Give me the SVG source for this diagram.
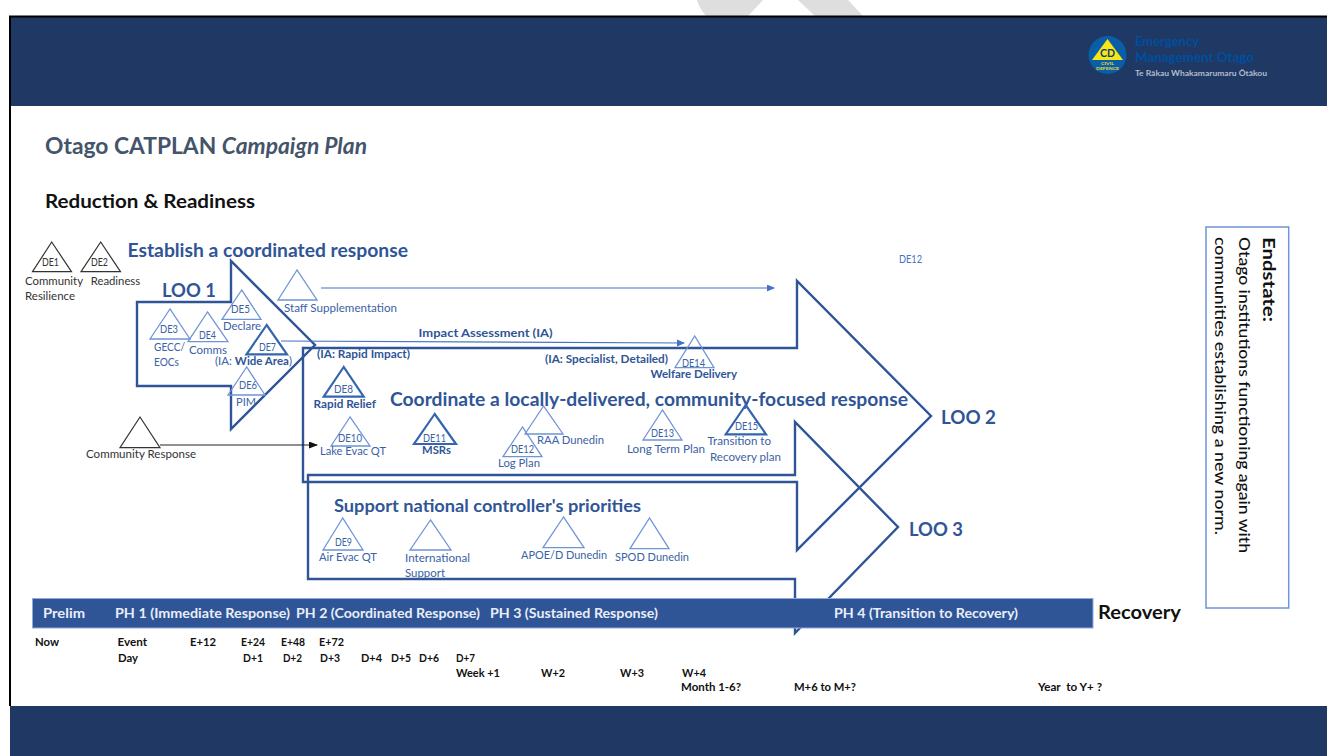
<svg xmlns="http://www.w3.org/2000/svg" width="1327" height="756" viewBox="0 0 1327 756">
<style>
text{font-family:"Lato","Liberation Sans",sans-serif;font-size:10.5px;fill:#3a62a5}
.k{fill:#333}
.t{font-size:10.5px;fill:#111;font-weight:700}
.b{font-weight:700;fill:#2f5597}
.h{font-size:18px;font-weight:700;fill:#2f5597}
.loo{font-size:19px;font-weight:700;fill:#2f5597}
.ph{font-size:13px;font-weight:700;fill:#e8eef8}
.tri{fill:none;stroke:#6f94d8;stroke-width:1.3}
.tb{fill:none;stroke:#3565ad;stroke-width:2.2}
.tk{fill:none;stroke:#333;stroke-width:1.2}
.arr{fill:none;stroke:#2f5597;stroke-width:2.4}
.band{fill:#1f3864}
</style>
<defs>
<marker id="mb" markerWidth="8" markerHeight="8" refX="7" refY="3.5" orient="auto" markerUnits="userSpaceOnUse"><path d="M0 0L8 3.5L0 7z" fill="#4472c4"/></marker>
<marker id="mk" markerWidth="9" markerHeight="8" refX="8" refY="3.5" orient="auto" markerUnits="userSpaceOnUse"><path d="M0 0L9 3.5L0 7z" fill="#111"/></marker>
</defs>
<rect width="1327" height="756" fill="#fff"/>
<g id="watermark" fill="#dedede">
<path d="M697 0H763L748 16H706Q699 8 697 0z"/>
<path d="M798 0H848L863 16H815z"/>
</g>
<g id="frame">
<rect class="band" x="10" y="17" width="1317" height="89"/>
<rect class="band" x="10" y="706" width="1317" height="50"/>
<path d="M10 706V16.500H1327" fill="none" stroke="#000" stroke-width="2"/>
</g>
<g id="logo">
<circle cx="1107.500" cy="55" r="19" fill="#0a5ea8"/>
<path d="M1107.500 39L1092 60H1123z" fill="#f7e814"/>
<text x="1100" y="57" textLength="15" lengthAdjust="spacingAndGlyphs" style="font-size:12px;fill:#12387a;font-weight:700">CD</text>
<text x="1101" y="65" textLength="13" lengthAdjust="spacingAndGlyphs" style="font-size:4.500px;fill:#e4dc30;font-weight:700">CIVIL</text>
<text x="1096" y="70" textLength="23" lengthAdjust="spacingAndGlyphs" style="font-size:4.500px;fill:#e4dc30;font-weight:700">DEFENCE</text>
<text x="1135" y="46" textLength="64" lengthAdjust="spacingAndGlyphs" style="font-size:13px;fill:#004f9f;font-weight:700">Emergency</text>
<text x="1135" y="62" textLength="119" lengthAdjust="spacingAndGlyphs" style="font-size:13px;fill:#004f9f;font-weight:700">Management Otago</text>
<text x="1135" y="76" textLength="132" lengthAdjust="spacingAndGlyphs" style="font-size:8px;fill:#b4bccb;font-weight:700">Te Rākau Whakamarumaru Ōtākou</text>
</g>
<g id="titles">
<text x="45" y="154" style="font-size:22.800px;font-weight:700;fill:#44546a">Otago CATPLAN <tspan font-style="italic">Campaign Plan</tspan></text>
<text x="45" y="208" textLength="210" lengthAdjust="spacingAndGlyphs" style="font-size:18px;font-weight:700;fill:#111">Reduction &amp; Readiness</text>
</g>
<g id="loo-arrows">
<g id="loo1"><path class="arr" d="M137 302H231V261L315 345L231 429V386H137z"/><text class="loo" x="162" y="297" textLength="54" lengthAdjust="spacingAndGlyphs">LOO 1</text><text class="h" x="127.500" y="257" textLength="280.500" lengthAdjust="spacingAndGlyphs">Establish a coordinated response</text></g>
<g id="loo2"><path class="arr" d="M303 348H797V281L931 416L797 550V482H303z"/><text class="loo" x="941" y="424" textLength="55" lengthAdjust="spacingAndGlyphs">LOO 2</text><text class="h" x="390" y="406" textLength="518" lengthAdjust="spacingAndGlyphs">Coordinate a locally-delivered, community-focused response</text></g>
<g id="loo3"><path class="arr" d="M308 475H795V422L898 527L795 633V579H308z"/><text class="loo" x="909" y="536" textLength="54" lengthAdjust="spacingAndGlyphs">LOO 3</text><text class="h" x="334" y="512" textLength="307" lengthAdjust="spacingAndGlyphs" style="font-size:16.500px">Support national controller's priorities</text></g>
</g>
<g id="connectors">
<path d="M321 288H774" fill="none" stroke="#4472c4" stroke-width="1.200" marker-end="url(#mb)"/>
<path d="M281 341L684 343" fill="none" stroke="#4472c4" stroke-width="1.200" marker-end="url(#mb)"/>
<path d="M160 445H317" fill="none" stroke="#222" stroke-width="1.200" marker-end="url(#mk)"/>
</g>
<g id="node-de1"><path class="tk" d="M51.700 242L32.500 271.700H71.500z"/><text class="k" x="42" y="266" textLength="17" lengthAdjust="spacingAndGlyphs">DE1</text><text class="k" x="25" y="285" textLength="58" lengthAdjust="spacingAndGlyphs">Community</text><text class="k" x="25" y="300" textLength="50" lengthAdjust="spacingAndGlyphs">Resilience</text></g>
<g id="node-de2"><path class="tk" d="M100.700 242L81 271.700H120.500z"/><text class="k" x="91" y="266" textLength="17" lengthAdjust="spacingAndGlyphs">DE2</text><text class="k" x="90.700" y="285" textLength="49.500" lengthAdjust="spacingAndGlyphs">Readiness</text></g>
<g id="node-de3"><path class="tri" d="M170 309L150 339H190z"/><text x="160" y="333" textLength="18" lengthAdjust="spacingAndGlyphs">DE3</text><text x="154" y="351" textLength="31" lengthAdjust="spacingAndGlyphs">GECC/</text><text x="154" y="366" textLength="25" lengthAdjust="spacingAndGlyphs">EOCs</text></g>
<g id="node-de4"><path class="tri" d="M207.500 312L188 341.700H228z"/><text x="199" y="339" textLength="17" lengthAdjust="spacingAndGlyphs">DE4</text><text x="189" y="354" textLength="38" lengthAdjust="spacingAndGlyphs">Comms</text></g>
<g id="node-de5"><path class="tri" d="M241.700 290L222 319.300H261z"/><text x="231" y="313" textLength="19" lengthAdjust="spacingAndGlyphs">DE5</text><text x="223" y="330" textLength="38" lengthAdjust="spacingAndGlyphs">Declare</text></g>
<g id="node-de6"><path class="tri" d="M246.700 367L228 395H265z"/><text x="239" y="389" textLength="18" lengthAdjust="spacingAndGlyphs">DE6</text><text x="236" y="406" textLength="20" lengthAdjust="spacingAndGlyphs">PIM</text></g>
<g id="node-de7"><path class="tb" d="M266.700 325L246.500 354.300H287z"/><text x="259" y="351" textLength="17" lengthAdjust="spacingAndGlyphs">DE7</text><text x="215" y="365" textLength="77" lengthAdjust="spacingAndGlyphs">(IA: <tspan class="b">Wide Area</tspan>)</text></g>
<g id="node-staff"><path class="tri" d="M297 270L278 300H317z"/><text x="284" y="312" textLength="113" lengthAdjust="spacingAndGlyphs">Staff Supplementation</text></g>
<g id="node-community-response"><path class="tk" d="M140 417L120 447.700H160z"/><text class="k" x="86" y="458" textLength="110" lengthAdjust="spacingAndGlyphs">Community Response</text></g>
<g id="ia-labels">
<text class="b" x="418.600" y="336.700" textLength="134" lengthAdjust="spacingAndGlyphs">Impact Assessment (IA)</text>
<text class="b" x="317" y="358" textLength="93" lengthAdjust="spacingAndGlyphs">(IA: Rapid Impact)</text>
<text class="b" x="545" y="362.700" textLength="123" lengthAdjust="spacingAndGlyphs">(IA: Specialist, Detailed)</text>
<text x="899" y="262.700" textLength="23" lengthAdjust="spacingAndGlyphs" style="fill:#4472c4">DE12</text>
</g>
<g id="node-de8"><path class="tb" d="M343.700 367L323.700 396.700H363.700z"/><text x="334" y="393" textLength="19" lengthAdjust="spacingAndGlyphs">DE8</text><text class="b" x="313.500" y="408" textLength="62.500" lengthAdjust="spacingAndGlyphs">Rapid Relief</text></g>
<g id="node-de10"><path class="tri" d="M350 417L331 446H370z"/><text x="338" y="442" textLength="24" lengthAdjust="spacingAndGlyphs">DE10</text><text x="320" y="455" textLength="66" lengthAdjust="spacingAndGlyphs">Lake Evac QT</text></g>
<g id="node-de11"><path class="tb" d="M434.700 414L414 444H456z"/><text x="423" y="441.700" textLength="23" lengthAdjust="spacingAndGlyphs">DE11</text><text class="b" x="422" y="454" textLength="29" lengthAdjust="spacingAndGlyphs">MSRs</text></g>
<g id="node-raa"><path class="tri" d="M543.500 406L525 434H563z"/><text x="537" y="444" textLength="67" lengthAdjust="spacingAndGlyphs">RAA Dunedin</text></g>
<g id="node-de12"><path class="tri" d="M522.500 427L503 456.700H542z"/><text x="511" y="453" textLength="23" lengthAdjust="spacingAndGlyphs">DE12</text><text x="498" y="467" textLength="42" lengthAdjust="spacingAndGlyphs">Log Plan</text></g>
<g id="node-de13"><path class="tri" d="M662.500 410L643 440H682z"/><text x="651" y="437" textLength="23" lengthAdjust="spacingAndGlyphs">DE13</text><text x="627" y="453" textLength="78" lengthAdjust="spacingAndGlyphs">Long Term Plan</text></g>
<g id="node-de14"><path class="tri" d="M694.700 336L675 367.700H714z"/><text x="682" y="367" textLength="23" lengthAdjust="spacingAndGlyphs">DE14</text><text class="b" x="650.500" y="378" textLength="86.500" lengthAdjust="spacingAndGlyphs">Welfare Delivery</text></g>
<g id="node-de15"><path class="tb" d="M745.700 405L725.700 434.300H766z"/><text x="735" y="430" textLength="23" lengthAdjust="spacingAndGlyphs">DE15</text><text x="707.500" y="445" textLength="63.500" lengthAdjust="spacingAndGlyphs">Transition to</text><text x="710" y="461" textLength="71" lengthAdjust="spacingAndGlyphs">Recovery plan</text></g>
<g id="node-de9"><path class="tri" d="M342.700 518L323 550H363z"/><text x="335" y="546" textLength="17" lengthAdjust="spacingAndGlyphs">DE9</text><text x="319" y="560.700" textLength="58" lengthAdjust="spacingAndGlyphs">Air Evac QT</text></g>
<g id="node-intl"><path class="tri" d="M430.500 520L410 550H451z"/><text x="405" y="561.700" textLength="65" lengthAdjust="spacingAndGlyphs">International</text><text x="405" y="577" textLength="40" lengthAdjust="spacingAndGlyphs">Support</text></g>
<g id="node-apoe"><path class="tri" d="M563.500 517L543 547.700H584z"/><text x="521" y="559" textLength="86" lengthAdjust="spacingAndGlyphs">APOE/D Dunedin</text></g>
<g id="node-spod"><path class="tri" d="M649.500 518L630 548.700H669z"/><text x="615" y="560.700" textLength="74" lengthAdjust="spacingAndGlyphs">SPOD Dunedin</text></g>
<g id="phase-bar">
<rect x="32.500" y="598.500" width="1060.500" height="29.500" fill="#2f5597" stroke="#8faadc" stroke-width="1"/>
<text class="ph" x="43" y="618" textLength="42" lengthAdjust="spacingAndGlyphs">Prelim</text>
<text class="ph" x="115" y="618" textLength="175" lengthAdjust="spacingAndGlyphs">PH 1 (Immediate Response)</text>
<text class="ph" x="296" y="618" textLength="184" lengthAdjust="spacingAndGlyphs">PH 2 (Coordinated Response)</text>
<text class="ph" x="490" y="618" textLength="168" lengthAdjust="spacingAndGlyphs">PH 3 (Sustained Response)</text>
<text class="ph" x="834" y="618" textLength="184" lengthAdjust="spacingAndGlyphs">PH 4 (Transition to Recovery)</text>
<text x="1098" y="618.500" textLength="83" lengthAdjust="spacingAndGlyphs" style="font-size:18px;font-weight:700;fill:#111">Recovery</text>
</g>
<g id="timeline">
<text class="t" x="35" y="646" textLength="24" lengthAdjust="spacingAndGlyphs">Now</text>
<text class="t" x="117.500" y="646" textLength="29.500" lengthAdjust="spacingAndGlyphs">Event</text>
<text class="t" x="118" y="662" textLength="20" lengthAdjust="spacingAndGlyphs">Day</text>
<text class="t" x="190" y="646" textLength="26" lengthAdjust="spacingAndGlyphs">E+12</text>
<text class="t" x="241" y="646" textLength="24" lengthAdjust="spacingAndGlyphs">E+24</text>
<text class="t" x="281" y="646" textLength="24" lengthAdjust="spacingAndGlyphs">E+48</text>
<text class="t" x="319" y="646" textLength="25" lengthAdjust="spacingAndGlyphs">E+72</text>
<text class="t" x="243" y="662" textLength="20" lengthAdjust="spacingAndGlyphs">D+1</text>
<text class="t" x="283" y="662" textLength="19" lengthAdjust="spacingAndGlyphs">D+2</text>
<text class="t" x="320" y="662" textLength="20" lengthAdjust="spacingAndGlyphs">D+3</text>
<text class="t" x="361" y="662" textLength="21" lengthAdjust="spacingAndGlyphs">D+4</text>
<text class="t" x="391" y="662" textLength="20" lengthAdjust="spacingAndGlyphs">D+5</text>
<text class="t" x="419" y="662" textLength="20" lengthAdjust="spacingAndGlyphs">D+6</text>
<text class="t" x="456" y="662" textLength="19" lengthAdjust="spacingAndGlyphs">D+7</text>
<text class="t" x="456" y="676.700" textLength="44" lengthAdjust="spacingAndGlyphs">Week +1</text>
<text class="t" x="541" y="676.700" textLength="24" lengthAdjust="spacingAndGlyphs">W+2</text>
<text class="t" x="620" y="676.700" textLength="24" lengthAdjust="spacingAndGlyphs">W+3</text>
<text class="t" x="682" y="676.700" textLength="24" lengthAdjust="spacingAndGlyphs">W+4</text>
<text class="t" x="681" y="691" textLength="60" lengthAdjust="spacingAndGlyphs">Month 1-6?</text>
<text class="t" x="794" y="691" textLength="62" lengthAdjust="spacingAndGlyphs">M+6 to M+?</text>
<text class="t" x="1038" y="691" textLength="64" lengthAdjust="spacingAndGlyphs" xml:space="preserve">Year  to Y+ ?</text>
</g>
<g id="endstate">
<rect x="1206" y="227" width="82.700" height="381" fill="#fff" stroke="#6f94d8" stroke-width="1.500"/>
<text transform="translate(1263 237) rotate(90)" textLength="85" lengthAdjust="spacingAndGlyphs" style="font-size:17px;font-weight:700;fill:#111">Endstate:</text>
<text transform="translate(1239 237) rotate(90)" textLength="316" lengthAdjust="spacingAndGlyphs" style="font-size:15.500px;fill:#111;font-weight:500">Otago institutions functioning again with</text>
<text transform="translate(1215 237) rotate(90)" textLength="298" lengthAdjust="spacingAndGlyphs" style="font-size:15.500px;fill:#111;font-weight:500">communities establishing a new norm.</text>
</g>
</svg>
